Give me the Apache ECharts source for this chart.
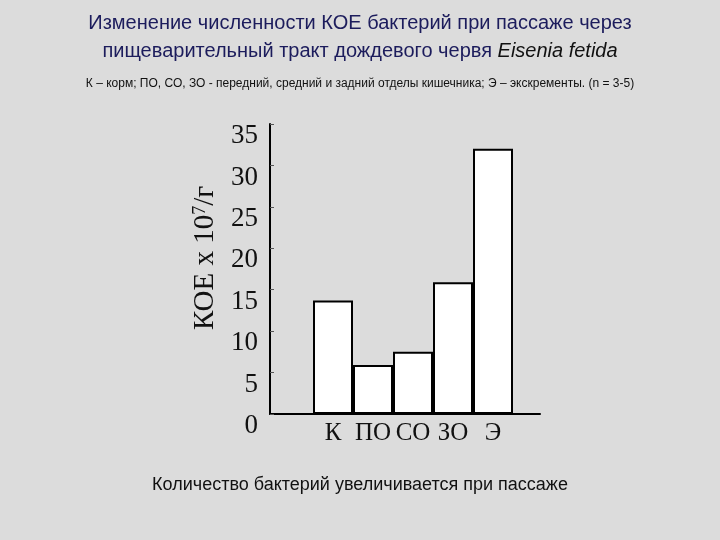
<!DOCTYPE html>
<html>
<head>
<meta charset="utf-8">
<script src="https://cdn.jsdelivr.net/npm/echarts@6/dist/echarts.min.js"></script>
<style>
  html, body { margin: 0; padding: 0; background: #dcdcdc; }
  #chart { width: 720px; height: 540px; }
</style>
</head>
<body>
<div id="chart"></div>
<script>
// данные: КОЕ x 10^7/г
const categories = ['К', 'ПО', 'СО', 'ЗО', 'Э'];
const values = [13.7, 5.9, 7.5, 15.9, 32.0];
const yTicks = [0, 5, 10, 15, 20, 25, 30, 35];

const serif = '"Liberation Serif", "DejaVu Serif", serif';
const sans = '"Liberation Sans", Arial, sans-serif';

let myChart = echarts.init(document.getElementById('chart'));

// позиция по оси x = индекс категории
let barData = values.map((v, i) => [i, v]);

let option = {
  backgroundColor: '#dcdcdc',
  animation: false,
  title: [
    {
      text: 'Изменение численности КОЕ бактерий при пассаже через\n{n|пищеварительный тракт дождевого червя }{i|Eisenia fetida}',
      left: 'center',
      top: 4,
      textStyle: {
        fontFamily: sans,
        fontSize: 20,
        fontWeight: 'normal',
        color: '#1c1c5c',
        lineHeight: 28,
        align: 'center',
        rich: {
          n: { fontFamily: sans, fontSize: 20, color: '#1c1c5c', lineHeight: 28 },
          i: { fontFamily: sans, fontSize: 20, color: '#111', fontStyle: 'italic', lineHeight: 28 }
        }
      }
    },
    {
      text: 'К – корм; ПО, СО, ЗО - передний, средний и задний отделы кишечника; Э – экскременты. (n = 3-5)',
      left: 'center',
      top: 73,
      textStyle: { fontFamily: sans, fontSize: 12, fontWeight: 'normal', color: '#111' }
    },
    {
      text: 'Количество бактерий увеличивается при пассаже',
      left: 'center',
      top: 471,
      textStyle: { fontFamily: sans, fontSize: 18, fontWeight: 'normal', color: '#111' }
    }
  ],
  grid: { left: 270, top: 124, width: 270, height: 290 },
  xAxis: {
    type: 'value',
    min: -1.575,
    max: 5.175,
    splitLine: { show: false },
    axisLine: { show: true, onZero: false, lineStyle: { color: '#000', width: 2 } },
    axisTick: { show: false },
    axisLabel: {
      customValues: [0, 1, 2, 3, 4],
      formatter: v => categories[Math.round(v)],
      fontFamily: serif,
      fontSize: 25,
      color: '#111',
      margin: 7
    }
  },
  yAxis: {
    type: 'value',
    min: 0,
    max: 35,
    interval: 5,
    name: 'КОЕ х 10{s|7}/г',
    nameLocation: 'middle',
    nameGap: 50,
    nameRotate: 90,
    nameTextStyle: {
      fontFamily: serif,
      fontSize: 29,
      color: '#111',
      padding: [0, 0, 0, 22],
      rich: {
        s: { fontFamily: serif, fontSize: 18, color: '#111', verticalAlign: 'top', padding: [0, 0, 10, 0] }
      }
    },
    splitLine: { show: false },
    axisLine: { show: true, onZero: false, lineStyle: { color: '#000', width: 2 } },
    axisTick: { show: true, inside: true, length: 4, lineStyle: { color: '#555' } },
    axisLabel: {
      fontFamily: serif,
      fontSize: 27,
      color: '#111',
      margin: 12,
      verticalAlign: 'top',
      lineHeight: 24,
      formatter: v => (yTicks.indexOf(v) >= 0 ? String(v) : '')
    }
  },
  series: [
    {
      type: 'bar',
      data: barData,
      barWidth: 40,
      itemStyle: { color: '#ffffff', borderColor: '#000', borderWidth: 2 }
    }
  ]
};

myChart.setOption(option);
</script>
</body>
</html>
